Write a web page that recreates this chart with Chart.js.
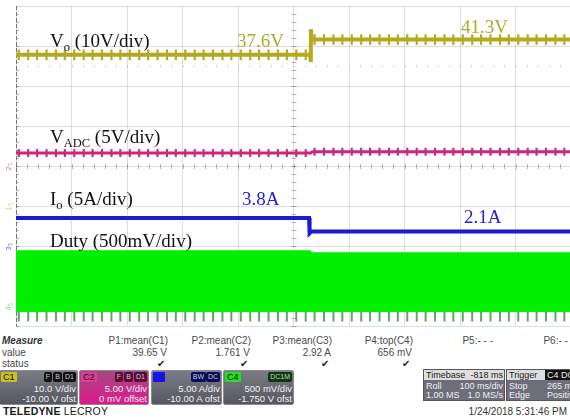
<!DOCTYPE html>
<html>
<head>
<meta charset="utf-8">
<script src="https://cdn.jsdelivr.net/npm/chart.js@4.4.1/dist/chart.umd.min.js"></script>
<style>
  html, body { margin: 0; padding: 0; background: #fff; width: 570px; height: 419px; overflow: hidden; }
  #wrap { position: absolute; left: 0; top: 0; width: 572px; height: 330px; }
  #panel { position: absolute; left: 0; top: 330px; width: 570px; height: 89px; overflow: hidden;
           font-family: 'Liberation Sans', Arial, sans-serif; font-size: 10px; color: #4a4a4a; }
  .t { position: absolute; white-space: nowrap; line-height: 12px; }
  .box { position: absolute; top: 40px; height: 33px; border: 1px solid #8a8a92; border-radius: 2px; overflow: hidden;
         background: linear-gradient(#7c7c86, #56565f); color: #f2f2f2; font-size: 9.5px; }
  .box .tag { position: absolute; left: 1px; top: 1px; height: 10px; padding: 0 2px; line-height: 10px; font-size: 9px; color: #111; border-radius: 1px; }
  .box .ic { position: absolute; top: 1px; height: 10px; line-height: 10px; font-size: 7px; color: #ccc; padding: 0 2px; border-radius: 2px; }
  .box .l1, .box .l2 { position: absolute; right: 1px; white-space: nowrap; line-height: 10px; }
  .box .l1 { top: 13px; }
  .box .l2 { top: 23px; }
  .tb { position: absolute; top: 39px; height: 30px; border: 1px solid #555; background: #6e6e7a; color: #f0f0f0; font-size: 9px; overflow: hidden; }
  .tb .h { position: absolute; left: 0; right: 0; top: 0; height: 10px; background: #dedede; color: #222; line-height: 10px; padding-left: 2px; white-space: nowrap; }
  .tb .row { position: absolute; left: 2px; right: 1px; height: 10px; line-height: 10px; white-space: nowrap; }
  .tb .row span { position: absolute; right: 0; }
</style>
</head>
<body>
<div id="wrap"><canvas id="scope" width="572" height="330"></canvas></div>
<div id="panel"></div>
<script>
// C1  Vo (V)
const voTime = [0, 530, 531, 531.5, 533, 1000];
const voVolts = [37.8, 37.8, 36.0, 44.2, 41.6, 41.6];
const voSpike = 1.25;
// C2  VADC (V)
const adcTime = [0, 531, 534, 1000];
const adcVolts = [1.62, 1.62, 1.78, 1.78];
const adcSpike = 0.45;
// C3  Io (A)
const ioTime = [0, 528, 529, 532, 1000];
const ioAmps = [3.5, 3.5, 1.6, 1.8, 1.8];
// C4  Duty envelope (V)
const dutyTime = [0, 530, 531, 1000];
const dutyTopVolts = [0.69, 0.69, 0.665, 0.665];
const dutyBottomVolts = [-0.07, -0.07, -0.07, -0.07];
const dutyTeethLow = -0.19;
// ripple spikes seen on the traces (ms)
const rippleMs = [5, 22, 38, 55, 72, 88, 105, 122, 138, 155, 172, 188, 205, 222, 238, 255, 272, 288, 305, 322,
  338, 355, 372, 388, 405, 422, 438, 455, 472, 488, 505, 522, 538, 555, 572, 588, 605, 622, 638, 655,
  672, 688, 705, 722, 738, 755, 772, 788, 805, 822, 838, 855, 872, 888, 905, 922, 938, 955, 972, 988];

// vertical settings per channel: units/div and offset
const chPerDiv = [10, 5, 5, 0.5];
const chOffset = [-10, 0, -10, -1.75];
const chColors = ['#b3aa1e', '#c8287f', '#1b1bd0', '#00ee00'];

// measure panel
const measureNames = ['P1:mean(C1)', 'P2:mean(C2)', 'P3:mean(C3)', 'P4:top(C4)', 'P5:- - -', 'P6:- - -'];
const measureValues = ['39.65 V', '1.761 V', '2.92 A', '656 mV', '', ''];
const measureOk = [true, true, true, true, false, false];
const chNames = ['C1', 'C2', 'C3', 'C4'];
const chVdiv = ['10.0 V/div', '5.00 V/div', '5.00 A/div', '500 mV/div'];
const chOfst = ['-10.00 V ofst', '0 mV offset', '-10.00 A ofst', '-1.750 V ofst'];

function pts(xs, ys) { return xs.map((x, i) => ({ x: x, y: ys[i] })); }
function levelAt(xs, ys, t) {
  let v = ys[0];
  for (let i = 0; i < xs.length; i++) if (xs[i] <= t) v = ys[i];
  return v;
}
function spikes(xs, ys, a) {
  return rippleMs.map(t => { const v = levelAt(xs, ys, t); return { x: t, y: [v - a, v + a] }; });
}
// teeth hanging under the duty band
function teeth() {
  return rippleMs.map(t => ({ x: t, y: [dutyTeethLow, levelAt(dutyTime, dutyBottomVolts, t)] }));
}

function chAxis(i) {
  const c = -chOffset[i];
  return { type: 'linear', display: false, min: c - 4 * chPerDiv[i], max: c + 4 * chPerDiv[i] };
}

const labels = [
  { x: 50, y: 47, color: '#111', parts: [['V', 0], ['o', 1], [' (10V/div)', 0]] },
  { x: 237, y: 47, color: '#b5a62c', parts: [['37.6V', 0]] },
  { x: 461, y: 33, color: '#b5a62c', parts: [['41.3V', 0]] },
  { x: 50, y: 143, color: '#111', parts: [['V', 0], ['ADC', 1], [' (5V/div)', 0]] },
  { x: 50, y: 205, color: '#111', parts: [['I', 0], ['o', 1], [' (5A/div)', 0]] },
  { x: 242, y: 205, color: '#2222d6', parts: [['3.8A', 0]] },
  { x: 464, y: 223, color: '#2222d6', parts: [['2.1A', 0]] },
  { x: 50, y: 247, color: '#111', parts: [['Duty (500mV/div)', 0]] }
];

const scopeDecor = {
  id: 'scopeDecor',
  beforeDatasetsDraw(chart) {
    const { ctx, chartArea: a, scales } = chart;
    const cy = scales.yGrid.getPixelForValue(0);
    const cx = scales.x.getPixelForValue(500);
    ctx.save();
    ctx.strokeStyle = 'rgba(0,0,0,0.28)';
    ctx.lineWidth = 1;
    ctx.beginPath();
    for (let t = 0; t <= 1000; t += 20) {
      const px = Math.round(scales.x.getPixelForValue(t)) + 0.5;
      ctx.moveTo(px, cy - 2); ctx.lineTo(px, cy + 3);
    }
    for (let d = -4; d <= 4; d += 0.2) {
      const py = Math.round(scales.yGrid.getPixelForValue(d)) + 0.5;
      ctx.moveTo(cx - 2, py); ctx.lineTo(cx + 3, py);
      ctx.moveTo(a.left, py); ctx.lineTo(a.left + 3, py);
    }
    ctx.stroke();
    // dotted marker line
    ctx.fillStyle = 'rgba(0,0,0,0.3)';
    const dy = Math.round(scales.yGrid.getPixelForValue(2.5));
    for (let t = 0; t <= 1000; t += 20) ctx.fillRect(Math.round(scales.x.getPixelForValue(t)), dy, 1, 1);
    // left border
    ctx.strokeStyle = '#777';
    ctx.setLineDash([4, 2]);
    ctx.beginPath();
    ctx.moveTo(a.left + 0.5, a.top); ctx.lineTo(a.left + 0.5, a.bottom);
    ctx.stroke();
    ctx.restore();
  },
  afterDatasetsDraw(chart) {
    const { ctx, scales } = chart;
    ctx.save();
    // channel ground markers
    ['c1', 'c2', 'c3', 'c4'].forEach((id, i) => {
      const py = scales[id].getPixelForValue(0);
      ctx.save();
      ctx.translate(9, py);
      ctx.rotate(-Math.PI / 2);
      ctx.fillStyle = chColors[i];
      ctx.globalAlpha = 0.7;
      ctx.font = '7px "Liberation Sans"';
      ctx.textAlign = 'center';
      ctx.textBaseline = 'middle';
      ctx.fillText(String(i + 1) + '\u2510', 0, 0);
      ctx.restore();
    });
    // annotation texts
    ctx.textBaseline = 'alphabetic';
    labels.forEach(l => {
      let x = l.x;
      ctx.fillStyle = l.color;
      l.parts.forEach(([s, sub]) => {
        ctx.font = sub ? '12.5px "Liberation Serif"' : '19px "Liberation Serif"';
        ctx.fillText(s, x, sub ? l.y + 4 : l.y);
        x += ctx.measureText(s).width;
      });
    });
    ctx.restore();
  }
};

const lineDs = (data, axis, color, width) => ({
  data: data, yAxisID: axis, borderColor: color, borderWidth: width, pointRadius: 0, fill: false, tension: 0
});
const spikeDs = (data, axis, color, w) => ({
  type: 'bar', data: data, yAxisID: axis, backgroundColor: color, borderWidth: 0,
  barThickness: w, grouped: false, borderSkipped: false, clip: false
});

new Chart(document.getElementById('scope'), {
  type: 'line',
  data: {
    datasets: [
      spikeDs(teeth(), 'c4', '#5aa85a', 1.3),
      lineDs(pts(voTime, voVolts), 'c1', chColors[0], 4),
      spikeDs(spikes(voTime, voVolts, voSpike), 'c1', chColors[0], 1.5),
      lineDs(pts(adcTime, adcVolts), 'c2', chColors[1], 3),
      spikeDs(spikes(adcTime, adcVolts, adcSpike), 'c2', chColors[1], 1.5),
      lineDs(pts(ioTime, ioAmps), 'c3', chColors[2], 4),
      lineDs(pts(dutyTime, dutyTopVolts), 'c4', chColors[3], 1),
      Object.assign(lineDs(pts(dutyTime, dutyBottomVolts), 'c4', chColors[3], 1), { fill: '-1', backgroundColor: '#00f000' })
    ]
  },
  options: {
    responsive: false,
    animation: false,
    events: [],
    layout: { autoPadding: false, padding: { left: 16, top: 6, right: 1, bottom: 4 } },
    plugins: { legend: { display: false }, tooltip: { enabled: false } },
    scales: {
      x: {
        type: 'linear', min: 0, max: 1000, offset: false,
        ticks: { display: false, stepSize: 100 },
        grid: { color: 'rgba(0,0,0,0.13)', drawTicks: false, offset: false },
        border: { display: false }
      },
      yGrid: {
        type: 'linear', position: 'left', min: -4, max: 4,
        ticks: { display: false, stepSize: 1 },
        grid: { color: 'rgba(0,0,0,0.13)', drawTicks: false },
        border: { display: false }
      },
      c1: chAxis(0), c2: chAxis(1), c3: chAxis(2), c4: chAxis(3)
    }
  },
  plugins: [scopeDecor]
});

// ---- measurement / setup panel ----
const panel = document.getElementById('panel');
function add(html) { panel.insertAdjacentHTML('beforeend', html); }
add('<div class="t" style="left:2px;top:5px;font-weight:bold;font-style:italic;color:#333">Measure</div>');
add('<div class="t" style="left:2px;top:17px">value</div>');
add('<div class="t" style="left:2px;top:28px">status</div>');
const colRight = [168, 251, 332, 413, 493, 574];
measureNames.forEach((n, i) => {
  const r = 570 - colRight[i];
  add('<div class="t" style="right:' + r + 'px;top:5px">' + n + '</div>');
  if (measureValues[i]) add('<div class="t" style="right:' + (r + 1) + 'px;top:17px">' + measureValues[i] + '</div>');
  if (measureOk[i]) add('<div class="t" style="right:' + (r + 3) + 'px;top:28px;color:#222;font-size:10px">\u2714</div>');
});
const boxLeft = [-1, 79, 151, 223];
const boxWidth = [77, 68, 69, 69];
const boxBg = ['', 'linear-gradient(#a24a80, #e0188c)', '', ''];
const tagBg = ['#c9c022', '#e23a98', '#1414e6', '#22e022'];
const icBg = ['#111', '#5a0a34', '#0a0a5a', '#0a3a0a'];
const icText = [['F', 'B', 'D1'], ['F', 'B', 'D1'], ['BW', 'DC'], ['DC1M']];
chNames.forEach((c, i) => {
  let ic = '';
  let r = 1;
  icText[i].slice().reverse().forEach(s => {
    ic += '<div class="ic" style="right:' + r + 'px;background:' + icBg[i] + '">' + s + '</div>';
    r += s.length * 4 + 6;
  });
  add('<div class="box" style="left:' + boxLeft[i] + 'px;width:' + boxWidth[i] + 'px;' +
      (boxBg[i] ? 'background:' + boxBg[i] + ';' : '') + '">' +
      '<div class="tag" style="background:' + tagBg[i] + '">' + (i === 2 ? '&nbsp;&nbsp;&nbsp;' : c) + '</div>' + ic +
      '<div class="l1">' + chVdiv[i] + '</div><div class="l2">' + chOfst[i] + '</div></div>');
});
add('<div class="tb" style="left:423px;width:80px"><div class="h">Timebase<span style="position:absolute;right:1px">-818 ms</span></div>' +
    '<div class="row" style="top:11px">Roll<span>100 ms/div</span></div>' +
    '<div class="row" style="top:20px">1.00 MS<span>1.0 MS/s</span></div></div>');
add('<div class="tb" style="left:506px;width:70px"><div class="h">Trigger<span style="position:absolute;left:38px;background:#111;color:#eee;padding:0 2px">C4 DC</span></div>' +
    '<div class="row" style="top:11px">Stop<span style="left:38px;right:auto">265 mV</span></div>' +
    '<div class="row" style="top:20px">Edge<span style="left:38px;right:auto">Positive</span></div></div>');
add('<div class="t" style="left:3px;top:75px;color:#1a1a1a;font-size:10.5px;letter-spacing:0.2px"><b>TELEDYNE</b> LECROY</div>');
add('<div class="t" style="right:3px;top:76px;font-size:10px;color:#333">1/24/2018 5:31:46 PM</div>');
</script>
</body>
</html>
